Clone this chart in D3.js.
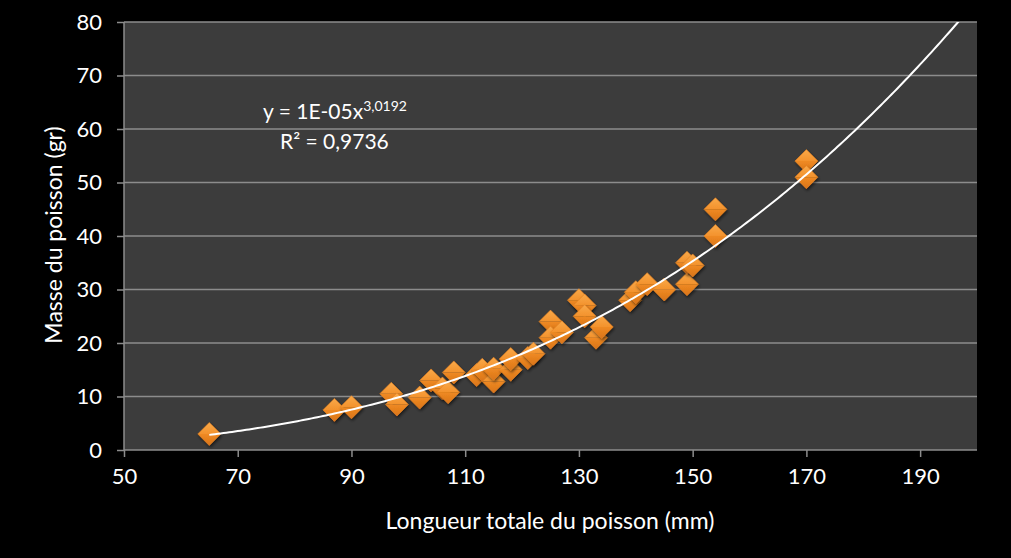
<!DOCTYPE html>
<html><head><meta charset="utf-8">
<script src="https://cdnjs.cloudflare.com/ajax/libs/d3/7.8.5/d3.min.js"></script>
<style>
html,body{margin:0;padding:0;background:#000;}
svg{display:block;}
text{font-family:Lato,"Open Sans",sans-serif;fill:#fff;}
</style></head>
<body>
<svg id="chart" width="1011" height="558"></svg>
<script>
// Data
const lengths = [65, 87, 90, 97, 98, 102, 104, 106, 107, 108, 112, 113, 115, 115, 118, 118, 121, 122, 125, 125, 127, 130, 131, 131, 133, 134, 139, 140, 142, 145, 149, 149, 150, 154, 154, 170, 170];
const masses  = [3, 7.5, 8, 10.5, 8.5, 9.8, 13, 11.5, 10.8, 14.5, 14, 15, 12.8, 15.2, 15, 17, 17.2, 18, 24, 21, 22, 28, 27, 25, 21, 23, 28, 29.5, 31, 30, 31, 35, 34.5, 45, 40, 54, 51];
const xTicks = [50, 70, 90, 110, 130, 150, 170, 190];
const yTicks = [0, 10, 20, 30, 40, 50, 60, 70, 80];
// Power trendline (Excel): y = a * x^b
const trendA = 0.95e-5, trendB = 3.0192;
const trendRange = [65, 200];
const eqLine1 = "y = 1E-05x", eqExp = "3,0192", eqLine2 = "R² = 0,9736";
const xTitle = "Longueur totale du poisson (mm)";
const yTitle = "Masse du poisson (gr)";

const svg = d3.select("#chart");
const L = 124, R = 977, T = 22, B = 450;
const x = d3.scaleLinear().domain([50, 200]).range([L, R]);
const y = d3.scaleLinear().domain([0, 80]).range([B, T]);

svg.append("rect").attr("width", 1011).attr("height", 558).attr("fill", "#000");
svg.append("rect").attr("x", L).attr("y", T).attr("width", R - L).attr("height", B - T).attr("fill", "#3c3c3c");

// gridlines
svg.append("g").selectAll("line").data(yTicks.filter(d => d > 0)).join("line")
  .attr("x1", L).attr("x2", R).attr("y1", d => y(d)).attr("y2", d => y(d))
  .attr("stroke", "#8c8c8c").attr("stroke-width", 1.5);

// axes
const xAxis = d3.axisBottom(x).tickValues(xTicks).tickSize(7).tickPadding(11).tickFormat(d3.format("d"));
const yAxis = d3.axisLeft(y).tickValues(yTicks).tickSize(7).tickPadding(15).tickFormat(d3.format("d"));
const gx = svg.append("g").attr("transform", `translate(0,${B})`).call(xAxis);
const gy = svg.append("g").attr("transform", `translate(${L},0)`).call(yAxis);
[gx, gy].forEach(g => {
  g.select(".domain").attr("stroke", "#8c8c8c").attr("stroke-width", 1.5);
  g.selectAll(".tick line").attr("stroke", "#8c8c8c").attr("stroke-width", 1.5);
  g.selectAll(".tick text").attr("fill", "#fff").attr("font-size", 22).attr("font-family", "Lato, sans-serif");
});
gx.select(".domain").attr("d", `M${L},0H${R}`);
gy.select(".domain").attr("d", `M0,${B}V${T}`);

// defs: marker gradient & shadow
const defs = svg.append("defs");
const gTop = defs.append("linearGradient").attr("id", "gTop").attr("x1", 0).attr("y1", 0).attr("x2", 0).attr("y2", 1);
gTop.append("stop").attr("offset", "0%").attr("stop-color", "#f9a94a");
gTop.append("stop").attr("offset", "100%").attr("stop-color", "#f3922c");
const gBot = defs.append("linearGradient").attr("id", "gBot").attr("x1", 0).attr("y1", 0).attr("x2", 0).attr("y2", 1);
gBot.append("stop").attr("offset", "0%").attr("stop-color", "#ef8a22");
gBot.append("stop").attr("offset", "100%").attr("stop-color", "#d9741a");
const f = defs.append("filter").attr("id", "sh").attr("x", "-50%").attr("y", "-50%").attr("width", "200%").attr("height", "200%");
f.append("feDropShadow").attr("dx", 1).attr("dy", 2).attr("stdDeviation", 1.5).attr("flood-color", "#000").attr("flood-opacity", 0.55);

const s = 11.5;
const pts = lengths.map((d, i) => ({x: d, y: masses[i]}));
const mk = svg.append("g").selectAll("g").data(pts).join("g")
  .attr("transform", d => `translate(${x(d.x)},${y(d.y)})`).attr("filter", "url(#sh)");
mk.append("path").attr("d", `M0,${-s}L${s},0L${-s},0Z`).attr("fill", "url(#gTop)");
mk.append("path").attr("d", `M${-s},0L${s},0L0,${s}Z`).attr("fill", "url(#gBot)");
mk.append("path").attr("d", `M0,${-s}L${s},0L0,${s}L${-s},0Z`).attr("fill", "none").attr("stroke", "#e58220").attr("stroke-width", 0.6);

// trendline
const clip = defs.append("clipPath").attr("id", "clip");
clip.append("rect").attr("x", L).attr("y", T).attr("width", R - L).attr("height", B - T);
const tx = d3.range(trendRange[0], trendRange[1] + 0.01, 0.5);
const line = d3.line().x(d => x(d)).y(d => y(trendA * Math.pow(d, trendB))).curve(d3.curveLinear);
svg.append("path").datum(tx).attr("d", line).attr("fill", "none").attr("stroke", "#fff")
  .attr("stroke-width", 2).attr("clip-path", "url(#clip)");

// equation
const eq = svg.append("text").attr("x", 263).attr("y", 119).attr("font-size", 21);
eq.append("tspan").text(eqLine1);
eq.append("tspan").attr("dy", -8).attr("font-size", 14).text(eqExp);
svg.append("text").attr("x", 280).attr("y", 149).attr("font-size", 21).text(eqLine2);

// axis titles
svg.append("text").attr("x", 550).attr("y", 529).attr("text-anchor", "middle").attr("font-size", 23).text(xTitle);
svg.append("text").attr("transform", `translate(62,235) rotate(-90)`).attr("text-anchor", "middle").attr("font-size", 23).text(yTitle);
</script>
</body></html>
